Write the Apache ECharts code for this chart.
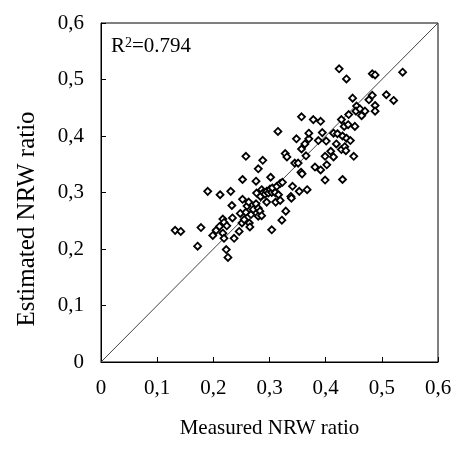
<!DOCTYPE html>
<html>
<head>
<meta charset="utf-8">
<script src="https://cdn.jsdelivr.net/npm/echarts@6/dist/echarts.min.js"></script>
<style>
  html, body { margin: 0; padding: 0; background: #fff; }
  #chart { width: 473px; height: 455px; }
</style>
</head>
<body>
<div id="chart"></div>
<script>
////////////////////
// data
////////////////////
var measured = [
    0.132, 0.142, 0.172, 0.178, 0.190, 0.199, 0.205, 0.211, 0.212, 0.217,
    0.219, 0.217, 0.219, 0.223, 0.226, 0.224, 0.231, 0.233, 0.234, 0.237,
    0.246, 0.248, 0.251, 0.252, 0.252, 0.255, 0.258, 0.258, 0.260, 0.263,
    0.264, 0.265, 0.267, 0.271, 0.276, 0.276, 0.277, 0.280, 0.280, 0.283,
    0.280, 0.286, 0.284, 0.286, 0.288, 0.289, 0.292, 0.295, 0.295, 0.298,
    0.301, 0.302, 0.304, 0.304, 0.305, 0.310, 0.311, 0.313, 0.315, 0.316,
    0.319, 0.319, 0.322, 0.323, 0.328, 0.329, 0.331, 0.338, 0.339, 0.341,
    0.345, 0.351, 0.348, 0.353, 0.356, 0.358, 0.357, 0.357, 0.363, 0.365,
    0.367, 0.370, 0.370, 0.378, 0.381, 0.387, 0.391, 0.391, 0.394, 0.399,
    0.399, 0.402, 0.401, 0.409, 0.414, 0.414, 0.421, 0.419, 0.424, 0.428,
    0.428, 0.430, 0.430, 0.433, 0.434, 0.436, 0.437, 0.437, 0.440, 0.441,
    0.444, 0.448, 0.450, 0.452, 0.455, 0.454, 0.461, 0.464, 0.470, 0.477,
    0.483, 0.483, 0.488, 0.488, 0.488, 0.508, 0.521, 0.537
];
var estimated = [
    0.233, 0.231, 0.205, 0.238, 0.302, 0.224, 0.233, 0.240, 0.296, 0.253,
    0.247, 0.228, 0.219, 0.199, 0.185, 0.241, 0.302, 0.277, 0.255, 0.219,
    0.231, 0.263, 0.246, 0.323, 0.288, 0.252, 0.364, 0.265, 0.276, 0.283,
    0.246, 0.239, 0.261, 0.270, 0.320, 0.280, 0.299, 0.342, 0.272, 0.267,
    0.258, 0.259, 0.293, 0.305, 0.357, 0.300, 0.297, 0.302, 0.283, 0.299,
    0.306, 0.327, 0.300, 0.234, 0.308, 0.300, 0.283, 0.311, 0.408, 0.296,
    0.316, 0.286, 0.251, 0.318, 0.369, 0.267, 0.363, 0.293, 0.290, 0.311,
    0.352, 0.352, 0.395, 0.302, 0.336, 0.333, 0.377, 0.434, 0.386, 0.365,
    0.305, 0.395, 0.405, 0.429, 0.345, 0.392, 0.426, 0.340, 0.406, 0.322,
    0.364, 0.349, 0.391, 0.373, 0.363, 0.405, 0.404, 0.386, 0.519, 0.429,
    0.376, 0.400, 0.323, 0.417, 0.381, 0.374, 0.501, 0.396, 0.420, 0.438,
    0.392, 0.467, 0.364, 0.417, 0.453, 0.444, 0.448, 0.436, 0.444, 0.464,
    0.472, 0.510, 0.508, 0.454, 0.444, 0.473, 0.463, 0.513
];
// 1:1 reference line ends
var lineEnds = [0, 0.6];
var axisTicks = [0, 0.1, 0.2, 0.3, 0.4, 0.5, 0.6];
var r2Text = '0.794';

var points = [];
for (var i = 0; i < measured.length; i++) {
    points.push([measured[i], estimated[i]]);
}

var font = 'Liberation Serif, Times New Roman, serif';

function comma_label(v) {
    if (v == 0) return '0';
    return v.toFixed(1).replace('.', ',');
}

var mychart = echarts.init(document.getElementById('chart'));
var chart_option = {
    animation: false,
    grid: {
        left: 101,
        right: 35,
        top: 23,
        bottom: 93,
        show: true,
        borderColor: '#000',
        borderWidth: 1
    },
    xAxis: {
        type: 'value',
        min: axisTicks[0],
        max: axisTicks[axisTicks.length - 1],
        interval: 0.1,
        name: 'Measured NRW ratio',
        nameLocation: 'middle',
        nameGap: 56,
        nameTextStyle: { fontFamily: font, fontSize: 21, color: '#000' },
        axisLine: { show: true, lineStyle: { color: '#000', width: 1 } },
        axisTick: { show: true, inside: true, length: 5, lineStyle: { color: '#000' } },
        axisLabel: {
            formatter: comma_label,
            fontFamily: font,
            fontSize: 21,
            color: '#000',
            margin: 16
        },
        splitLine: { show: false }
    },
    yAxis: {
        type: 'value',
        min: axisTicks[0],
        max: axisTicks[axisTicks.length - 1],
        interval: 0.1,
        name: 'Estimated NRW ratio',
        nameLocation: 'middle',
        nameGap: 61,
        nameTextStyle: {
            fontFamily: font,
            fontSize: 25,
            color: '#000',
            padding: [0, 53, 0, 0]
        },
        axisLine: { show: true, lineStyle: { color: '#000', width: 1 } },
        axisTick: { show: true, inside: true, length: 5, lineStyle: { color: '#000' } },
        axisLabel: {
            formatter: comma_label,
            fontFamily: font,
            fontSize: 21,
            color: '#000',
            margin: 17
        },
        splitLine: { show: false }
    },
    graphic: [
        {
            type: 'text',
            left: 111,
            top: 36,
            style: {
                text: 'R{sup|2}=' + r2Text,
                fontFamily: font,
                fontSize: 21,
                fill: '#000',
                rich: {
                    sup: { fontFamily: font, fontSize: 14, verticalAlign: 'top', fill: '#000', padding: [0, 0, 7, 0] }
                }
            }
        }
    ],
    series: [
        {
            type: 'line',
            data: [[lineEnds[0], lineEnds[0]], [lineEnds[1], lineEnds[1]]],
            symbol: 'none',
            lineStyle: { color: '#444', width: 1 },
            z: 1,
            silent: true
        },
        {
            type: 'scatter',
            data: points,
            symbol: 'diamond',
            symbolSize: 7,
            itemStyle: {
                color: '#fff',
                borderColor: '#000',
                borderWidth: 1.8,
                opacity: 1
            },
            z: 2
        }
    ]
};
mychart.setOption(chart_option);
</script>
</body>
</html>
